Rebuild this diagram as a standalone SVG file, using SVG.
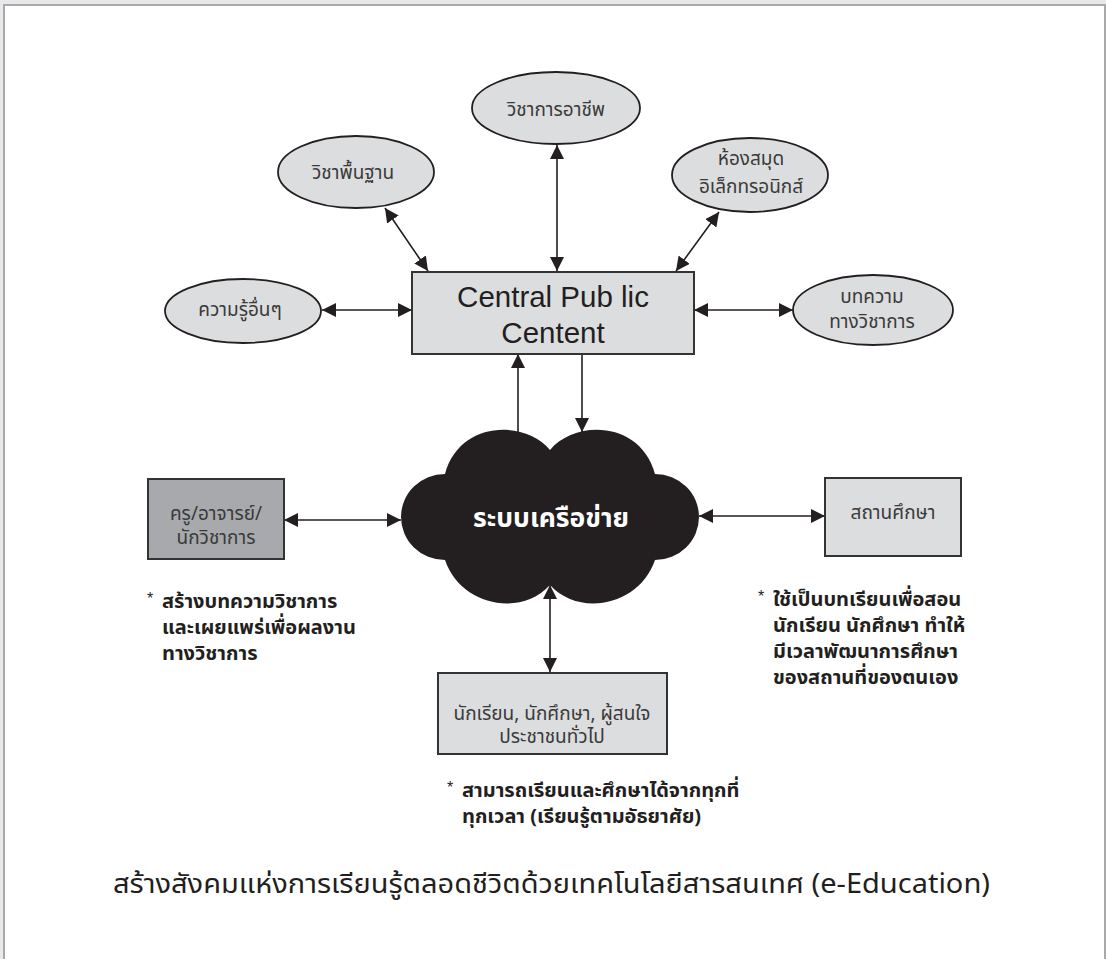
<svg xmlns="http://www.w3.org/2000/svg" width="1106" height="959" viewBox="0 0 1106 959">
  <defs>
    <marker id="arrow" viewBox="0 0 14 14" refX="14" refY="7" markerWidth="14" markerHeight="14" markerUnits="userSpaceOnUse" orient="auto-start-reverse">
      <path d="M0,0 L14,7 L0,14 z" fill="#231f20"/>
    </marker>
    <style>
      .ell { fill: #dcdddf; stroke: #231f20; stroke-width: 1.8; }
      .box { fill: #dcdddf; stroke: #333333; stroke-width: 2; }
      .box-dark { fill: #a7a9ac; stroke: #333333; stroke-width: 2; }
      .lbl { font-family: "Noto Sans Thai", "Noto Sans", "DejaVu Sans", sans-serif; font-size: 19px; fill: #3a3a3a; text-anchor: middle; }
      .note { font-family: "Noto Sans Thai", "Noto Sans", "DejaVu Sans", sans-serif; font-size: 20px; font-weight: bold; fill: #231f20; }
      .star { font-family: "Liberation Sans", sans-serif; font-size: 16px; fill: #231f20; }
      .en { font-family: "Liberation Sans", Arial, sans-serif; font-size: 29.5px; fill: #231f20; text-anchor: middle; }
      .conn line { stroke: #231f20; stroke-width: 1.6; }
      .dbl { marker-start: url(#arrow); marker-end: url(#arrow); }
      .one { marker-end: url(#arrow); }
    </style>
  </defs>

  <!-- page frame -->
  <rect x="0" y="0" width="1106" height="959" fill="#e8e8ea"/>
  <rect x="4" y="5" width="1101" height="960" fill="#ffffff" stroke="#a9a9ab" stroke-width="2"/>

  <!-- connectors -->
  <g id="connectors" class="conn">
    <line class="dbl" x1="322" y1="310" x2="412" y2="310"/>
    <line class="dbl" x1="385" y1="208" x2="428" y2="271"/>
    <line class="dbl" x1="557" y1="145" x2="557" y2="271"/>
    <line class="dbl" x1="719" y1="212" x2="676" y2="271"/>
    <line class="dbl" x1="694" y1="310" x2="793" y2="310"/>
    <line class="one" x1="518" y1="432" x2="518" y2="354"/>
    <line class="one" x1="582" y1="354" x2="582" y2="432"/>
    <line class="dbl" x1="284" y1="520" x2="401" y2="520"/>
    <line class="dbl" x1="699" y1="516" x2="825" y2="516"/>
    <line class="dbl" x1="550" y1="585" x2="550" y2="672"/>
  </g>

  <!-- content nodes around the hub -->
  <g id="node-vocational">
    <ellipse class="ell" cx="556" cy="108" rx="84" ry="36"/>
    <text class="lbl" x="556" y="116">วิชาการอาชีพ</text>
  </g>
  <g id="node-basic">
    <ellipse class="ell" cx="356" cy="172" rx="78" ry="36"/>
    <text class="lbl" x="353" y="179">วิชาพื้นฐาน</text>
  </g>
  <g id="node-library">
    <ellipse class="ell" cx="750" cy="175" rx="78" ry="37"/>
    <text class="lbl" x="751" y="165">ห้องสมุด</text>
    <text class="lbl" x="751" y="193">อิเล็กทรอนิกส์</text>
  </g>
  <g id="node-other">
    <ellipse class="ell" cx="243" cy="311" rx="78" ry="32"/>
    <text class="lbl" x="240" y="316">ความรู้อื่นๆ</text>
  </g>
  <g id="node-articles">
    <ellipse class="ell" cx="873" cy="310" rx="80" ry="35"/>
    <text class="lbl" x="872" y="303">บทความ</text>
    <text class="lbl" x="872" y="328">ทางวิชาการ</text>
  </g>

  <!-- hub -->
  <g id="node-central">
    <rect class="box" x="412" y="272" width="282" height="82"/>
    <text class="en" x="553" y="307">Central Pub lic</text>
    <text class="en" x="553" y="343">Centent</text>
  </g>

  <!-- network cloud -->
  <g id="node-network">
    <path d="M550,450 C575,420 640,420 655,474 A44,43 0 0 1 655,560 C640,605 580,618 550,585 C520,618 460,605 445,560 A44,43 0 0 1 445,474 C460,420 525,420 550,450 Z" fill="#231f20"/>
    <text x="551" y="527" font-family="Noto Sans Thai, Noto Sans, DejaVu Sans, sans-serif" font-size="26.5" font-weight="bold" fill="#ffffff" text-anchor="middle">ระบบเครือข่าย</text>
  </g>

  <g id="node-teachers">
    <rect class="box-dark" x="148" y="479" width="136" height="80"/>
    <text class="lbl" x="216" y="520">ครู/อาจารย์/</text>
    <text class="lbl" x="216" y="544">นักวิชาการ</text>
  </g>

  <g id="node-institution">
    <rect class="box" x="825" y="478" width="136" height="78"/>
    <text class="lbl" x="893" y="519">สถานศึกษา</text>
  </g>

  <g id="node-learners">
    <rect class="box" x="438" y="673" width="229" height="81"/>
    <text class="lbl" x="552" y="720">นักเรียน, นักศึกษา, ผู้สนใจ</text>
    <text class="lbl" x="552" y="743">ประชาชนทั่วไป</text>
  </g>

  <!-- notes -->
  <g id="note-teachers">
    <text class="star" x="147" y="604">*</text>
    <text class="note" x="162" y="608">สร้างบทความวิชาการ</text>
    <text class="note" x="162" y="634">และเผยแพร่เพื่อผลงาน</text>
    <text class="note" x="162" y="660">ทางวิชาการ</text>
  </g>
  <g id="note-institution">
    <text class="star" x="758" y="602">*</text>
    <text class="note" x="773" y="606">ใช้เป็นบทเรียนเพื่อสอน</text>
    <text class="note" x="773" y="632">นักเรียน นักศึกษา ทำให้</text>
    <text class="note" x="773" y="658">มีเวลาพัฒนาการศึกษา</text>
    <text class="note" x="773" y="684">ของสถานที่ของตนเอง</text>
  </g>
  <g id="note-learners">
    <text class="star" x="447" y="793">*</text>
    <text class="note" x="462" y="797">สามารถเรียนและศึกษาได้จากทุกที่</text>
    <text class="note" x="462" y="823">ทุกเวลา (เรียนรู้ตามอัธยาศัย)</text>
  </g>

  <!-- caption -->
  <text id="caption" x="113" y="893" font-family="Noto Sans Thai, Noto Sans, sans-serif" font-size="27" fill="#231f20" textLength="877" lengthAdjust="spacingAndGlyphs">สร้างสังคมแห่งการเรียนรู้ตลอดชีวิตด้วยเทคโนโลยีสารสนเทศ (e-Education)</text>
</svg>
